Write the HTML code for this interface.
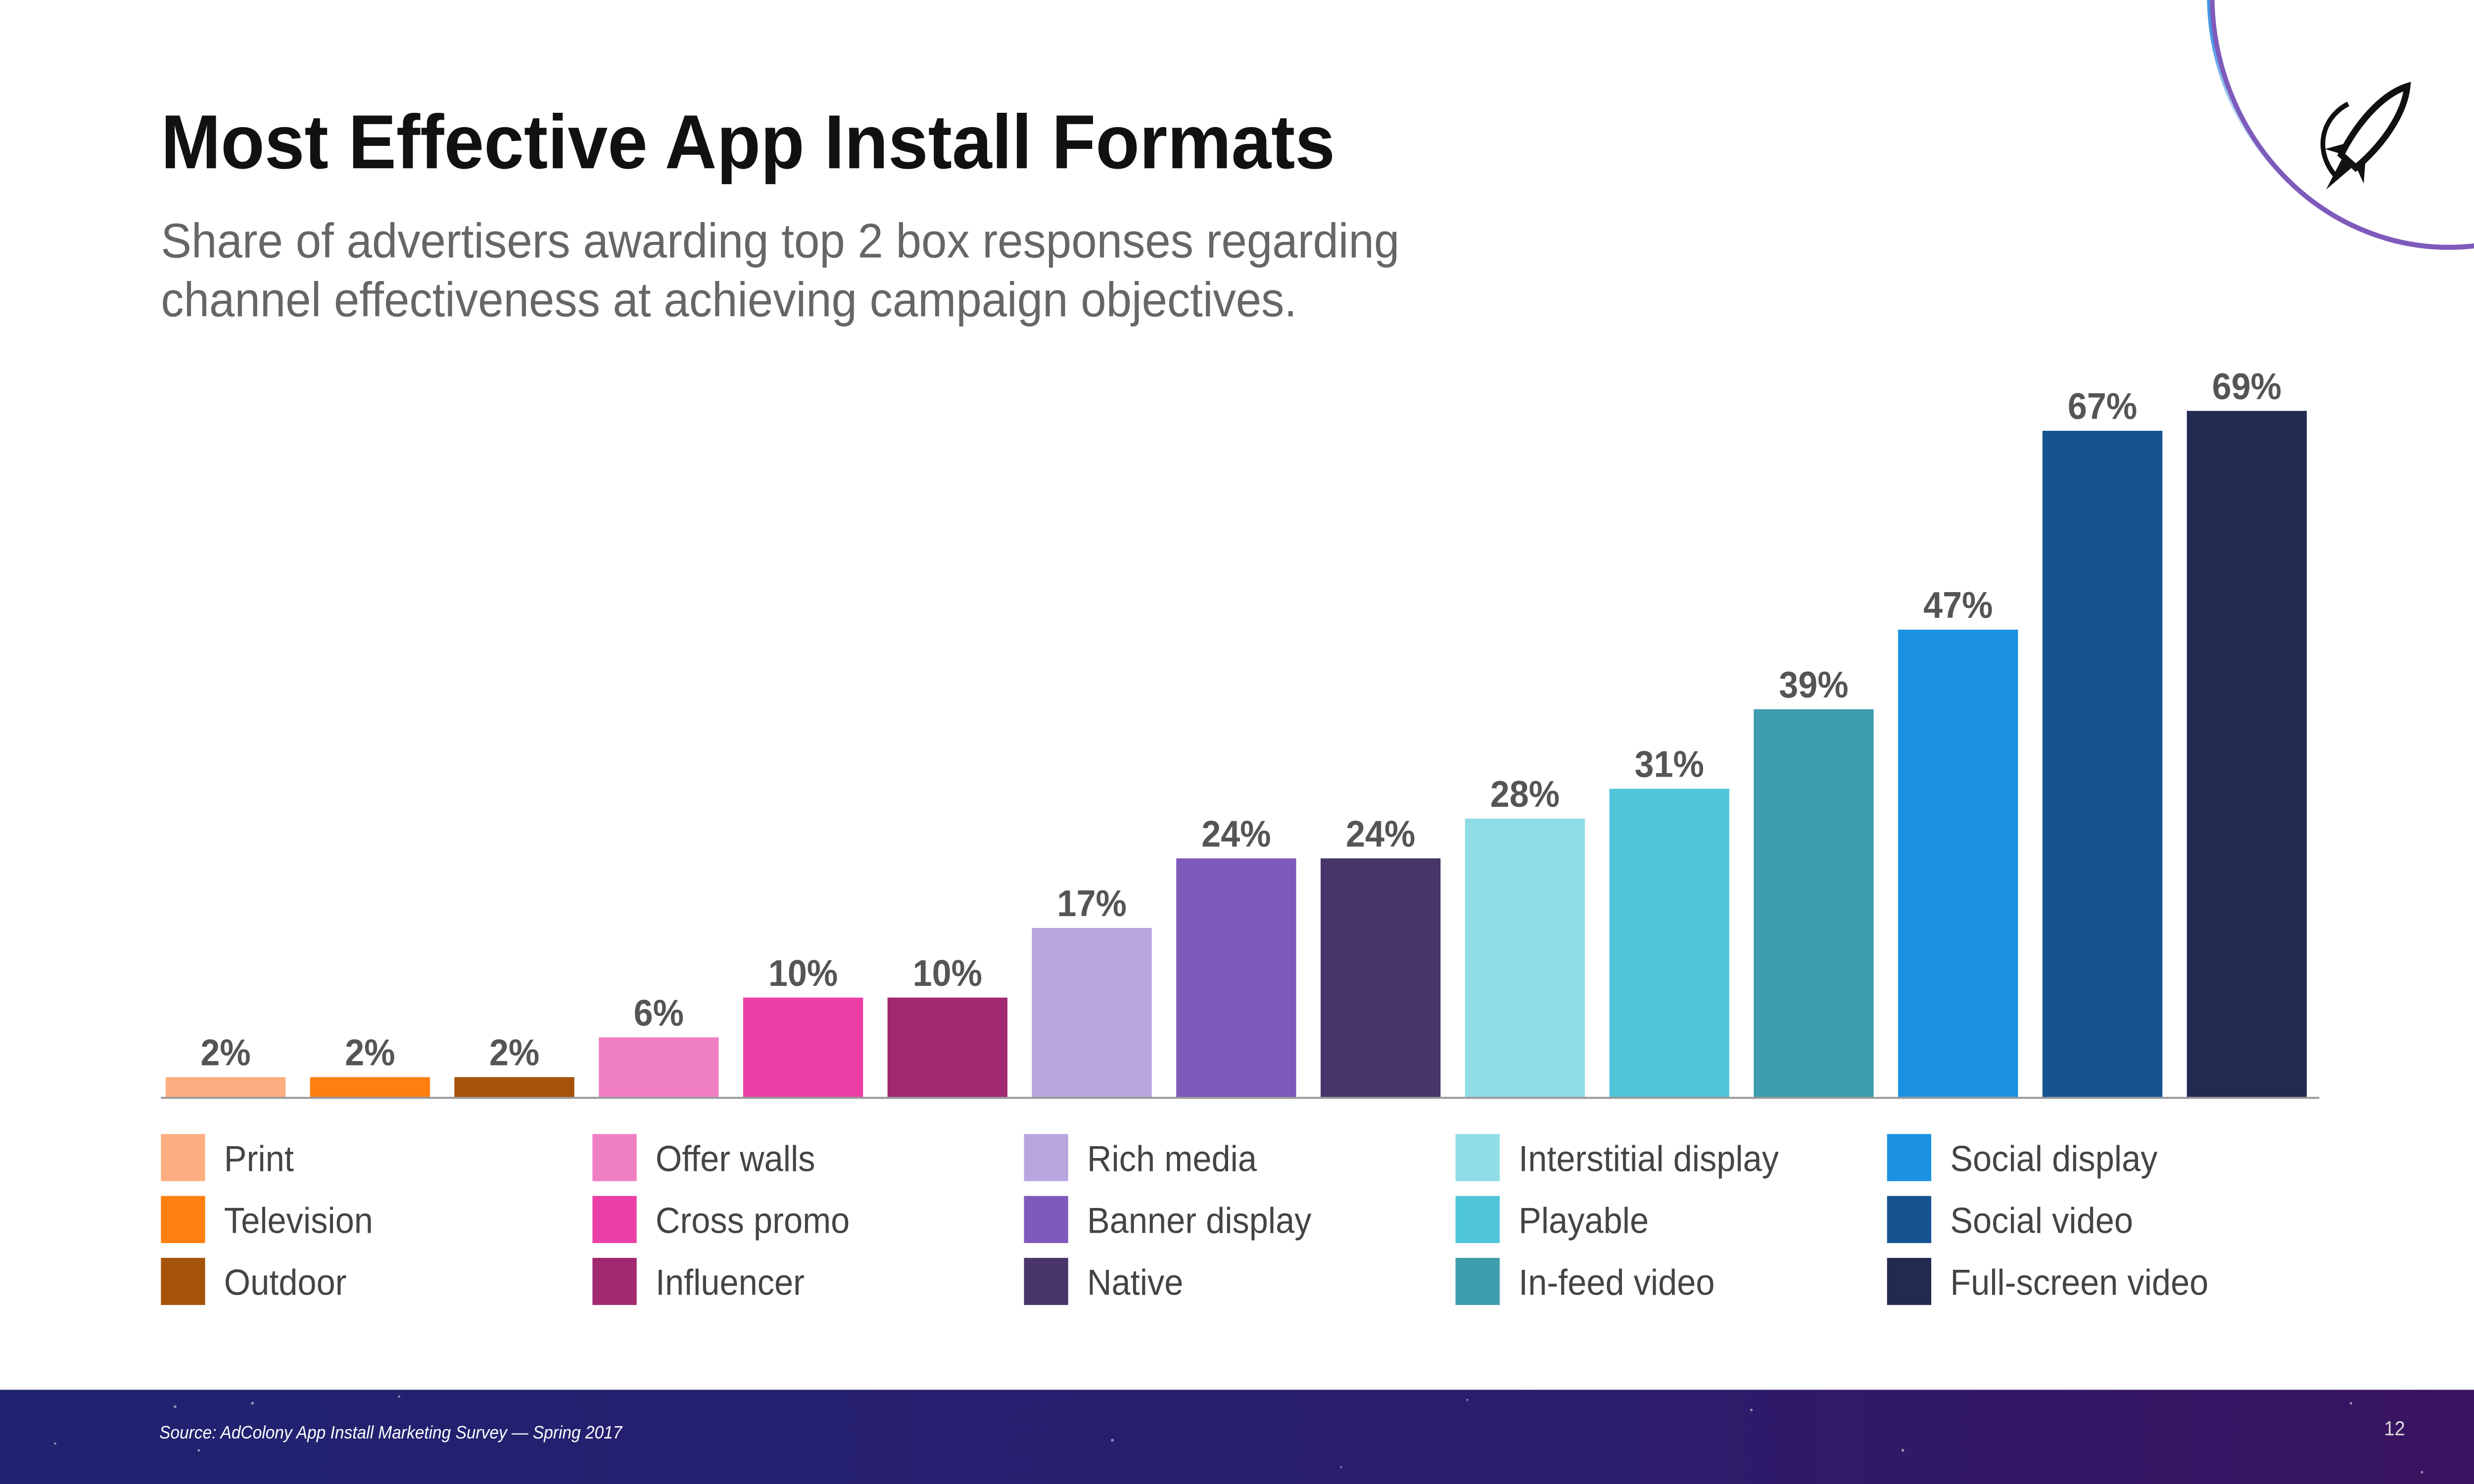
<!DOCTYPE html>
<html><head><meta charset="utf-8"><style>
html,body{margin:0;padding:0;background:#fff;overflow:hidden;width:100%;height:100%}
svg{display:block;position:fixed;left:0;top:0;width:100vw;height:100vh}
text{font-family:"Liberation Sans",sans-serif}
</style></head><body>
<svg id="chart" viewBox="0 0 1568 882" preserveAspectRatio="none" xmlns="http://www.w3.org/2000/svg">
<defs>
<linearGradient id="foot" x1="0" y1="0" x2="1" y2="0"><stop offset="0" stop-color="#1f2370"/><stop offset="0.6" stop-color="#2a1d6e"/><stop offset="1" stop-color="#3a1460"/></linearGradient>
<linearGradient id="arcB" x1="0" y1="0" x2="0" y2="1"><stop offset="0" stop-color="#1e7fe0"/><stop offset="0.6" stop-color="#4a9ae6"/><stop offset="1" stop-color="#ffffff" stop-opacity="0"/></linearGradient>
</defs>
<rect width="1568" height="882" fill="#fff"/>
<g>
<circle cx="1550" cy="-5" r="147" fill="none" stroke="url(#arcB)" stroke-width="2.5" transform="translate(-3,2)"/>
<circle cx="1552" cy="-3" r="150" fill="none" stroke="#7e5bbb" stroke-width="3"/>
</g>
<g transform="translate(1500,82) rotate(40)">
<path d="M0,-40 C10,-25 10,0 6,18 L-6,18 C-10,0 -10,-25 0,-40 Z" fill="none" stroke="#111" stroke-width="4"/>
<path d="M-6,8 L-16,22 L-7,18 Z M6,8 L16,22 L7,18 Z" fill="#111"/>
<path d="M-4,20 L0,40 L4,20 Z" fill="#111"/>
<path d="M-22,-8 C-30,10 -20,28 0,30" fill="none" stroke="#111" stroke-width="3"/>
</g>
<text x="102" y="100" font-size="45.5" font-weight="bold" fill="#111">Most Effective App Install Formats</text>
<text x="102" y="153" font-size="29" fill="#666">Share of advertisers awarding top 2 box responses regarding</text>
<text x="102" y="188" font-size="29" fill="#666">channel effectiveness at achieving campaign objectives.</text>
<g id="bars"></g>
<line x1="102" y1="652.5" x2="1470" y2="652.5" stroke="#999" stroke-width="1.2"/>
<g id="legend"></g>
<rect x="0" y="826" width="1568" height="56" fill="url(#foot)"/>
<g fill="#fff" opacity="0.5">
<circle cx="111" cy="836" r="0.9"/><circle cx="160" cy="834" r="0.9"/><circle cx="126" cy="862" r="0.8"/><circle cx="35" cy="858" r="0.7"/><circle cx="253" cy="830" r="0.7"/><circle cx="705" cy="856" r="0.9"/><circle cx="1110" cy="838" r="0.8"/><circle cx="1206" cy="862" r="0.9"/><circle cx="1490" cy="834" r="0.8"/><circle cx="1535" cy="875" r="0.8"/><circle cx="850" cy="872" r="0.6"/><circle cx="930" cy="832" r="0.6"/></g>
<text x="101" y="855" font-size="10.5" font-style="italic" fill="#fff">Source:  AdColony App Install Marketing Survey — Spring 2017</text>
<text x="1511" y="853" font-size="12" fill="#ddd">12</text>
</svg>
<script>
const categories=["Print","Television","Outdoor","Offer walls","Cross promo","Influencer","Rich media","Banner display","Native","Interstitial display","Playable","In-feed video","Social display","Social video","Full-screen video"];
const values=[2,2,2,6,10,10,17,24,24,28,31,39,47,67,69];
const valueLabels=["2%","2%","2%","6%","10%","10%","17%","24%","24%","28%","31%","39%","47%","67%","69%"];
const colors=["#FDAE80","#FF7F0F","#A5520A","#F17FC3","#EB3FA7","#A0296F","#B8A6E0","#7E5BBB","#483569","#90DDE8","#4FC5D8","#3D9DAD","#1B91E3","#165491","#232A52"];
const NS="http://www.w3.org/2000/svg";
const baseY=652, pxPer=5.91, x0=105, pitch=91.5, bw=76;
const xPos=i=>x0+i*pitch;
const yPos=v=>baseY-v*pxPer;
const bars=document.getElementById('bars');
values.forEach((v,i)=>{
  const r=document.createElementNS(NS,'rect');
  r.setAttribute('x',xPos(i));r.setAttribute('y',yPos(v));
  r.setAttribute('width',bw);r.setAttribute('height',baseY-yPos(v));
  r.setAttribute('fill',colors[i]);
  
  
  bars.appendChild(r);
  const t=document.createElementNS(NS,'text');
  t.setAttribute('x',xPos(i)+bw/2);t.setAttribute('y',yPos(v)-7);
  t.setAttribute('text-anchor','middle');t.setAttribute('font-size','22');
  t.setAttribute('font-weight','bold');t.setAttribute('fill','#555');
  t.textContent=valueLabels[i];
  
  
  bars.appendChild(t);
});
const lg=document.getElementById('legend');
categories.forEach((c,i)=>{
  const col=Math.floor(i/3), row=i%3;
  const lx=102+col*273.5, ly=674+row*36.8;
  const g=document.createElementNS(NS,'g');
  
  
  const s=document.createElementNS(NS,'rect');
  s.setAttribute('x',lx);s.setAttribute('y',ly);s.setAttribute('width',28);s.setAttribute('height',28);
  s.setAttribute('fill',colors[i]);
  
  
  const t=document.createElementNS(NS,'text');
  t.setAttribute('x',lx+40);t.setAttribute('y',ly+22);t.setAttribute('font-size','21.5');t.setAttribute('fill','#444');
  t.textContent=c;
  
  
  g.appendChild(s);g.appendChild(t);lg.appendChild(g);
});
</script>
</body></html>
